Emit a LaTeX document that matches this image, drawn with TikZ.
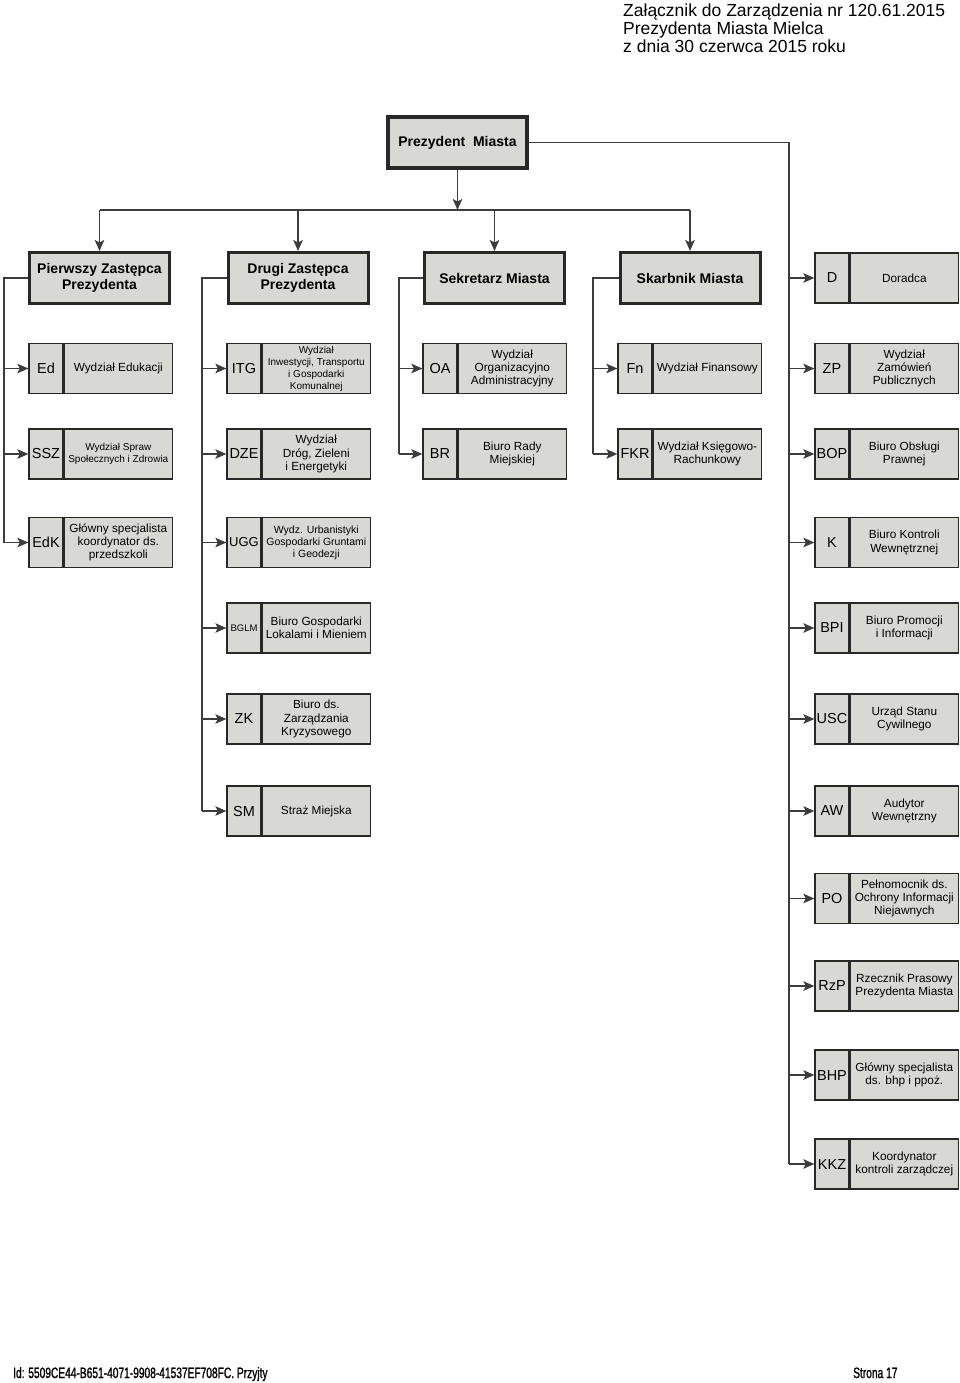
\documentclass[tikz,border=0pt]{standalone}
\usepackage{fontspec}
\setmainfont{Liberation Sans}
\newfontfamily\idfont[FakeStretch=0.68,FakeBold=1.2]{Liberation Sans}
\usepackage{tikz}
\usetikzlibrary{arrows.meta,positioning,calc}
\definecolor{boxfill}{RGB}{217,217,212}
\definecolor{edge}{RGB}{40,40,40}
\definecolor{wire}{RGB}{60,60,60}
\tikzset{
  prz/.style={rectangle,draw=edge,line width=4pt,fill=boxfill,minimum width=139pt,minimum height=51pt,inner sep=0pt,font=\fontsize{14}{16}\selectfont\bfseries},
  dep/.style={rectangle,draw=edge,line width=3pt,fill=boxfill,minimum width=140pt,minimum height=51pt,inner sep=0pt,align=center,font=\fontsize{14}{16}\selectfont\bfseries},
  ab/.style={rectangle,draw=edge,line width=1.3pt,fill=boxfill,minimum width=34pt,minimum height=50pt,inner sep=0.5pt,font=\fontsize{14.5}{16}\selectfont},
  ds/.style={rectangle,draw=edge,line width=1.3pt,fill=boxfill,minimum width=108pt,minimum height=50pt,inner sep=0.5pt,align=center,font=\fontsize{11.8}{13.3}\selectfont},
  dsmall/.style={ds,font=\fontsize{10}{12}\selectfont},
  arr/.style={-{Stealth[length=11pt,width=9.5pt,inset=2.5pt]},draw=wire,line width=1.3pt},
  ln/.style={draw=wire,line width=1.3pt},
}

\begin{document}
\begin{tikzpicture}[x=1pt,y=-1pt]
  \path[use as bounding box,fill=white] (0,0) rectangle (960,1383);

  % header and footer
  \node[anchor=north west,inner sep=0pt,align=left,font=\fontsize{17.5}{18}\selectfont] (hdr) at (623,4) {Załącznik do Zarządzenia nr 120.61.2015\\Prezydenta Miasta Mielca\\z dnia 30 czerwca 2015 roku};
  \node[anchor=base west,inner sep=0pt,font=\idfont\fontsize{15}{16}\selectfont] (idn) at (13,1378) {Id: 5509CE44-B651-4071-9908-41537EF708FC. Przyjty};
  \node[anchor=base west,inner sep=0pt,font=\idfont\fontsize{15}{16}\selectfont] (pg) at (853,1378) {Strona 17};

  % top levels
  \node[prz] (prez) at (457.5,142.5) {Prezydent\ \ Miasta};
  \node[dep] (pz) at (99.5,278) {Pierwszy Zastępca\\Prezydenta};
  \node[dep] (dz) at (298,278) {Drugi Zastępca\\Prezydenta};
  \node[dep] (sek) at (494.5,278) {Sekretarz Miasta};
  \node[dep] (skb) at (690,278) {Skarbnik Miasta};

  % column 1
  \node[ab] (ed) at (46,368.5) {Ed};
  \node[ds,right=0pt of ed] (ed-t) {Wydział Edukacji};
  \node[ab] (ssz) at (46,454) {SSZ};
  \node[dsmall,right=0pt of ssz] (ssz-t) {Wydział Spraw\\Społecznych i Zdrowia};
  \node[ab] (edk) at (46,542.5) {EdK};
  \node[ds,right=0pt of edk] (edk-t) {Główny specjalista\\koordynator ds.\\przedszkoli};

  % column 2
  \node[ab] (itg) at (244,368.5) {ITG};
  \node[dsmall,right=0pt of itg] (itg-t) {Wydział\\Inwestycji, Transportu\\i Gospodarki\\Komunalnej};
  \node[ab] (dze) at (244,454) {DZE};
  \node[ds,right=0pt of dze] (dze-t) {Wydział\\Dróg, Zieleni\\i Energetyki};
  \node[ab,font=\fontsize{13}{15}\selectfont] (ugg) at (244,542.5) {UGG};
  \node[dsmall,font=\fontsize{10.5}{12}\selectfont,right=0pt of ugg] (ugg-t) {Wydz. Urbanistyki\\Gospodarki Gruntami\\i Geodezji};
  \node[ab,font=\fontsize{9.5}{11}\selectfont] (bglm) at (244,628) {BGLM};
  \node[ds,right=0pt of bglm] (bglm-t) {Biuro Gospodarki\\Lokalami i Mieniem};
  \node[ab] (zk) at (244,719) {ZK};
  \node[ds,right=0pt of zk] (zk-t) {Biuro ds.\\Zarządzania\\Kryzysowego};
  \node[ab] (sm) at (244,811) {SM};
  \node[ds,right=0pt of sm] (sm-t) {Straż Miejska};

  % column 3
  \node[ab] (oa) at (440,368.5) {OA};
  \node[ds,right=0pt of oa] (oa-t) {Wydział\\Organizacyjno\\Administracyjny};
  \node[ab] (br) at (440,454) {BR};
  \node[ds,right=0pt of br] (br-t) {Biuro Rady\\Miejskiej};

  % column 4
  \node[ab] (fn) at (635,368.5) {Fn};
  \node[ds,right=0pt of fn] (fn-t) {Wydział Finansowy};
  \node[ab] (fkr) at (635,454) {FKR};
  \node[ds,right=0pt of fkr] (fkr-t) {Wydział Księgowo-\\Rachunkowy};

  % column 5
  \node[ab] (d) at (832,278) {D};
  \node[ds,right=0pt of d] (d-t) {Doradca};
  \node[ab] (zp) at (832,368.5) {ZP};
  \node[ds,right=0pt of zp] (zp-t) {Wydział\\Zamówień\\Publicznych};
  \node[ab] (bop) at (832,454) {BOP};
  \node[ds,right=0pt of bop] (bop-t) {Biuro Obsługi\\Prawnej};
  \node[ab] (k) at (832,542.5) {K};
  \node[ds,right=0pt of k] (k-t) {Biuro Kontroli\\Wewnętrznej};
  \node[ab] (bpi) at (832,628) {BPI};
  \node[ds,right=0pt of bpi] (bpi-t) {Biuro Promocji\\i Informacji};
  \node[ab] (usc) at (832,719) {USC};
  \node[ds,right=0pt of usc] (usc-t) {Urząd Stanu\\Cywilnego};
  \node[ab] (aw) at (832,811) {AW};
  \node[ds,right=0pt of aw] (aw-t) {Audytor\\Wewnętrzny};
  \node[ab] (po) at (832,898.5) {PO};
  \node[ds,right=0pt of po] (po-t) {Pełnomocnik ds.\\Ochrony Informacji\\Niejawnych};
  \node[ab] (rzp) at (832,986) {RzP};
  \node[ds,right=0pt of rzp] (rzp-t) {Rzecznik Prasowy\\Prezydenta Miasta};
  \node[ab] (bhp) at (832,1075) {BHP};
  \node[ds,right=0pt of bhp] (bhp-t) {Główny specjalista\\ds. bhp i ppoż.};
  \node[ab] (kkz) at (832,1164) {KKZ};
  \node[ds,right=0pt of kkz] (kkz-t) {Koordynator\\kontroli zarządczej};

  % bus and trunks
  \coordinate (bus) at (0,210);
  \coordinate (t1) at (4,0);
  \coordinate (t2) at (202,0);
  \coordinate (t3) at (399,0);
  \coordinate (t4) at (593,0);
  \coordinate (t5) at (789,0);

  \draw[arr] (prez.south) -- (prez.south |- bus);
  \draw[ln] (pz.north |- bus) -- (skb.north |- bus);
  \draw[arr] (pz.north |- bus) -- (pz.north);
  \draw[arr] (dz.north |- bus) -- (dz.north);
  \draw[arr] (sek.north |- bus) -- (sek.north);
  \draw[arr] (skb.north |- bus) -- (skb.north);

  \draw[ln] (pz.west) -| (t1 |- edk.west);
  \draw[arr] (t1 |- ed.west) -- (ed.west);
  \draw[arr] (t1 |- ssz.west) -- (ssz.west);
  \draw[arr] (t1 |- edk.west) -- (edk.west);

  \draw[ln] (dz.west) -| (t2 |- sm.west);
  \draw[arr] (t2 |- itg.west) -- (itg.west);
  \draw[arr] (t2 |- dze.west) -- (dze.west);
  \draw[arr] (t2 |- ugg.west) -- (ugg.west);
  \draw[arr] (t2 |- bglm.west) -- (bglm.west);
  \draw[arr] (t2 |- zk.west) -- (zk.west);
  \draw[arr] (t2 |- sm.west) -- (sm.west);

  \draw[ln] (sek.west) -| (t3 |- br.west);
  \draw[arr] (t3 |- oa.west) -- (oa.west);
  \draw[arr] (t3 |- br.west) -- (br.west);

  \draw[ln] (skb.west) -| (t4 |- fkr.west);
  \draw[arr] (t4 |- fn.west) -- (fn.west);
  \draw[arr] (t4 |- fkr.west) -- (fkr.west);

  \draw[ln] (prez.east) -| (t5 |- kkz.west);
  \draw[arr] (t5 |- d.west) -- (d.west);
  \draw[arr] (t5 |- zp.west) -- (zp.west);
  \draw[arr] (t5 |- bop.west) -- (bop.west);
  \draw[arr] (t5 |- k.west) -- (k.west);
  \draw[arr] (t5 |- bpi.west) -- (bpi.west);
  \draw[arr] (t5 |- usc.west) -- (usc.west);
  \draw[arr] (t5 |- aw.west) -- (aw.west);
  \draw[arr] (t5 |- po.west) -- (po.west);
  \draw[arr] (t5 |- rzp.west) -- (rzp.west);
  \draw[arr] (t5 |- bhp.west) -- (bhp.west);
  \draw[arr] (t5 |- kkz.west) -- (kkz.west);
\end{tikzpicture}
\end{document}
